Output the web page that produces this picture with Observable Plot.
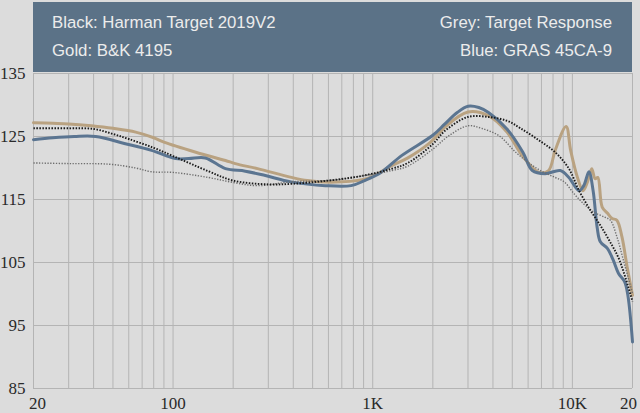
<!DOCTYPE html>
<html>
<head>
<meta charset="utf-8">
<script src="https://cdn.jsdelivr.net/npm/d3@7"></script>
<script src="https://cdn.jsdelivr.net/npm/@observablehq/plot@0.6"></script>
<style>
  html, body { margin: 0; padding: 0; background: #dcdcdc; }
  #wrap { position: relative; width: 640px; height: 413px; background: #dcdcdc; overflow: hidden; }
  #header { position: absolute; left: 33px; top: 2px; width: 599px; height: 70px; background: #5b7287;
    font-family: "Liberation Sans", Arial, sans-serif; font-size: 16.8px; color: #ececec; z-index: 2; }
  #header div { position: absolute; white-space: nowrap; }
  #chart { position: absolute; left: 0; top: 0; }
  #chart svg, #chart svg g, #chart svg g text { font-family: "Liberation Serif", "Times New Roman", "DejaVu Serif", serif !important; }
</style>
</head>
<body>
<div id="wrap">
  <div id="header">
    <div style="left:19px; top:11px;">Black: Harman Target 2019V2</div>
    <div style="right:20px; top:11px;">Grey: Target Response</div>
    <div style="left:19px; top:39px;">Gold: B&amp;K 4195</div>
    <div style="right:20px; top:39px;">Blue: GRAS 45CA-9</div>
  </div>
  <div id="chart"></div>
</div>
<script>
// Harman Target 2019V2 (black dotted)
const harmanFreq = [20, 30, 40, 50, 60, 80, 100, 150, 200, 300, 400, 600, 900, 1250, 1500, 2000, 2300, 3000, 3800, 4700, 5500, 6800, 8200, 9600, 10800, 12300, 13800, 15300, 17200, 20000];
const harmanDb   = [126.3, 126.3, 126.2, 125.4, 124.6, 123.2, 121.9, 119.5, 118.0, 117.4, 117.5, 118.0, 118.8, 119.9, 120.8, 123.8, 125.9, 128.1, 128.1, 127.5, 126.3, 124.4, 122.5, 119.9, 116.4, 113.3, 110.9, 108.5, 105.4, 98.8];

// Target Response (grey dotted)
const targetFreq = [20, 30, 48, 65, 78, 100, 150, 200, 265, 390, 650, 910, 1250, 1500, 2000, 2400, 3000, 3500, 4300, 5200, 6300, 7200, 8200, 9100, 10200, 11400, 12800, 14500, 15500, 16700, 18000, 20000];
const targetDb   = [120.8, 120.7, 120.6, 120.0, 119.4, 119.3, 118.5, 117.7, 117.2, 117.8, 118.1, 118.8, 119.6, 120.3, 123.0, 125.1, 126.7, 126.3, 125.1, 122.5, 120.4, 119.3, 118.5, 117.8, 115.9, 114.3, 113.0, 112.2, 111.7, 109.1, 105.4, 100.1];

// B&K 4195 (gold)
const bkFreq = [20, 25, 30, 39, 50, 65, 80, 90, 130, 183, 205, 265, 470, 700, 950, 1250, 1500, 1950, 2300, 3000, 3800, 4700, 5600, 6800, 7600, 8200, 9300, 9800, 10600, 11300, 11900, 12500, 13000, 13400, 14100, 15000, 15800, 16700, 17700, 18800, 20000];
const bkDb   = [127.2, 127.1, 127.0, 126.7, 126.3, 125.7, 124.8, 124.1, 122.5, 121.2, 120.7, 119.9, 118.0, 117.8, 118.4, 120.4, 121.6, 124.1, 126.5, 128.9, 128.3, 125.7, 122.0, 119.3, 119.6, 122.8, 126.6, 122.8, 118.5, 116.4, 117.8, 119.9, 118.3, 118.5, 113.8, 112.8, 112.0, 111.7, 109.1, 104.3, 99.8];

// GRAS 45CA-9 (blue)
const grasFreq = [20, 25, 32, 41, 57, 78, 103, 120, 145, 183, 230, 290, 390, 580, 780, 910, 1100, 1400, 2000, 2300, 2650, 3000, 3400, 3800, 4700, 5650, 6300, 7300, 8700, 9600, 10800, 11400, 12100, 12700, 13300, 13800, 15000, 16000, 17000, 18300, 19000, 20000];
const grasDb   = [124.5, 124.8, 125.0, 125.0, 123.9, 122.8, 121.5, 121.5, 121.6, 119.9, 119.5, 118.8, 117.8, 117.2, 117.2, 118.0, 119.3, 122.0, 125.2, 127.0, 128.8, 129.8, 129.6, 128.8, 126.2, 122.5, 119.6, 119.1, 119.6, 118.5, 116.4, 117.2, 119.4, 116.4, 110.6, 108.3, 107.2, 105.4, 103.3, 101.9, 99.6, 92.4];

// Grid and ticks
const gridFreqs = [20, 30, 40, 50, 60, 70, 80, 90, 100, 200, 300, 400, 500, 600, 700, 800, 900, 1000, 2000, 3000, 4000, 5000, 6000, 7000, 8000, 9000, 10000, 20000];
const yTicks = [85, 95, 105, 115, 125, 135];
const xTickValues = [20, 100, 1000, 10000, 20000];
const xTickLabels = ["20", "100", "1K", "10K", "20"];

const toRows = (fs, vs) => fs.map((f, i) => ({f, v: vs[i]}));
const harman = toRows(harmanFreq, harmanDb);
const target = toRows(targetFreq, targetDb);
const bk = toRows(bkFreq, bkDb);
const gras = toRows(grasFreq, grasDb);
const labelOf = new Map(xTickValues.map((v, i) => [v, xTickLabels[i]]));
const serif = "Liberation Serif, Times New Roman, serif";

const chart = Plot.plot({
  width: 640,
  height: 413,
  marginTop: 73,
  marginLeft: 33,
  marginRight: 8,
  marginBottom: 25,
  style: {background: "transparent", fontSize: "17px", color: "#2a2a2a"},
  x: {type: "log", domain: [20, 20000]},
  y: {domain: [85, 135]},
  marks: [
    Plot.ruleX(gridFreqs, {stroke: "#b4b4b4", strokeWidth: 1}),
    Plot.ruleY(yTicks, {stroke: "#b4b4b4", strokeWidth: 1}),
    Plot.axisY(yTicks, {tickSize: 0, tickPadding: 8, label: null, fontSize: 17, fontFamily: serif}),
    Plot.axisX([20], {tickSize: 0, tickPadding: 8, dx: 4, label: null, tickFormat: d => labelOf.get(d), fontSize: 17, fontFamily: serif}),
    Plot.axisX([100, 1000, 10000], {tickSize: 0, tickPadding: 8, label: null, tickFormat: d => labelOf.get(d), fontSize: 17, fontFamily: serif}),
    Plot.axisX([20000], {tickSize: 0, tickPadding: 8, dx: -4, label: null, tickFormat: d => labelOf.get(d), fontSize: 17, fontFamily: serif}),
    Plot.line(bk, {x: "f", y: "v", stroke: "#b9a281", strokeWidth: 3, curve: "catmull-rom"}),
    Plot.line(gras, {x: "f", y: "v", stroke: "#5b7591", strokeWidth: 3, curve: "catmull-rom"}),
    Plot.line(target, {x: "f", y: "v", stroke: "#6e6e6e", strokeWidth: 1.4, strokeDasharray: "1.3 1.5", strokeLinecap: "butt", curve: "catmull-rom"}),
    Plot.line(harman, {x: "f", y: "v", stroke: "#1a1a1a", strokeWidth: 1.9, strokeDasharray: "1.5 1.5", strokeLinecap: "butt", curve: "catmull-rom"})
  ]
});
document.getElementById("chart").appendChild(chart);
</script>
</body>
</html>
